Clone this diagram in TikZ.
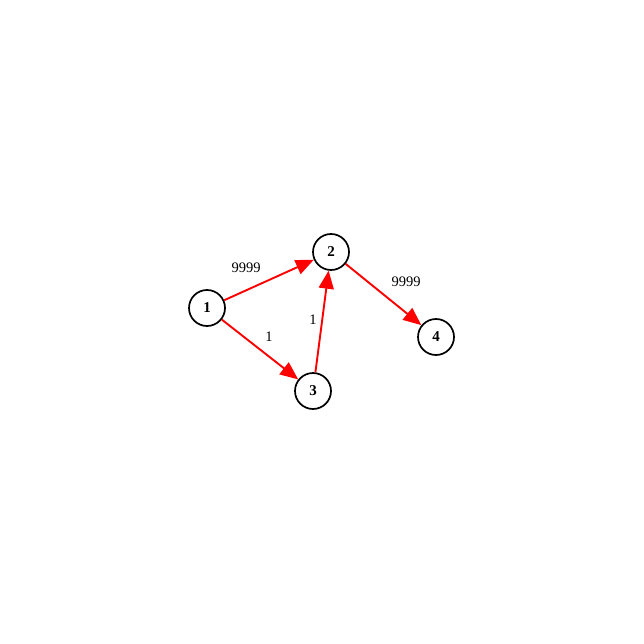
\documentclass[tikz,border=0pt]{standalone}
\usepackage{fontspec}
\setmainfont{Liberation Serif}
\usetikzlibrary{arrows.meta}

\begin{document}
\begin{tikzpicture}[x=1pt,y=-1pt]
        \tikzstyle{vertex}=[draw=black,circle,line width=1.7pt,inner sep=0pt,minimum size=36pt,font=\fontsize{15}{15}\selectfont\bfseries]
        \tikzstyle{weight}=[inner sep=0pt,font=\fontsize{14.5}{14.5}\selectfont]
        \tikzstyle{link}=[draw=red,line width=1.9pt,-{Triangle[length=18pt,width=15pt]}]
        \useasboundingbox (0,0) rectangle (644,644);
        \node[vertex] (v1) at (207,308) {1} ;
        \node[vertex] (v2) at (331,252) {2} ;
        \node[vertex] (v3) at (313,391) {3} ;
        \node[vertex] (v4) at (436,337) {4} ;
        \node[weight] (w12) at (246,268) {9999} ;
        \node[weight] (w13) at (269,337) {1} ;
        \node[weight] (w32) at (313,320) {1} ;
        \node[weight] (w24) at (406,282) {9999} ;
        \draw[link] (v1) -- (v2) ;
        \draw[link] (v1) -- (v3) ;
        \draw[link] (v3) -- (v2) ;
        \draw[link] (v2) -- (v4) ;
    \end{tikzpicture}
\end{document}
